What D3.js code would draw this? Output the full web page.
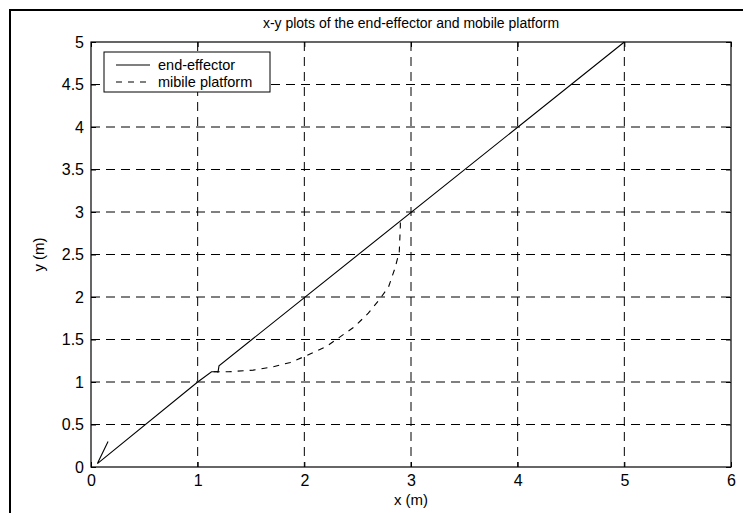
<!DOCTYPE html>
<html>
<head>
<meta charset="utf-8">
<script src="https://cdn.jsdelivr.net/npm/d3@7"></script>
<style>
html,body{margin:0;padding:0;background:#fff;}
svg{display:block;font-family:"Liberation Sans",Arial,sans-serif;}
</style>
</head>
<body>
<svg id="chart" width="743" height="513"></svg>
<script>
const titleText = "x-y plots of the end-effector and mobile platform";
const xLabel = "x (m)";
const yLabel = "y (m)";
const seriesNames = ["end-effector", "mibile platform"];
const xTicks = [0, 1, 2, 3, 4, 5, 6];
const yTicks = [0, 0.5, 1, 1.5, 2, 2.5, 3, 3.5, 4, 4.5, 5];

const endEffectorX = [0.16, 0.06, 0.08, 1.00, 1.13, 1.19, 1.19, 1.20, 5.00];
const endEffectorY = [0.30, 0.04, 0.06, 1.00, 1.12, 1.12, 1.11, 1.19, 5.00];

const platformX = [1.15, 1.29, 1.52, 1.71, 1.87, 2.02, 2.21, 2.30, 2.47, 2.60, 2.71, 2.79, 2.85, 2.89, 2.90, 2.90];
const platformY = [1.12, 1.12, 1.14, 1.18, 1.23, 1.31, 1.42, 1.50, 1.65, 1.81, 1.98, 2.12, 2.34, 2.53, 2.83, 2.88];

const svg = d3.select("#chart");
const L = 91, R = 731, T = 42, B = 467;
const x = d3.scaleLinear().domain([0, 6]).range([L, R]);
const y = d3.scaleLinear().domain([0, 5]).range([B, T]);

// outer figure frame (extends past right and bottom edges)
svg.append("rect").attr("x", 10).attr("y", 10).attr("width", 800).attr("height", 560)
  .attr("fill", "none").attr("stroke", "#000").attr("stroke-width", 2);

// grid
const grid = svg.append("g").attr("stroke", "#000").attr("stroke-width", 1).attr("stroke-dasharray", "9,6");
xTicks.filter(d => d > 0 && d < 6).forEach(d => {
  grid.append("line").attr("x1", x(d)).attr("x2", x(d)).attr("y1", T).attr("y2", B);
});
yTicks.filter(d => d > 0 && d < 5).forEach(d => {
  grid.append("line").attr("x1", L).attr("x2", R).attr("y1", y(d)).attr("y2", y(d));
});

// axes
const fs = "16px";
const xAxis = svg.append("g").attr("transform", `translate(0,${B})`)
  .call(d3.axisBottom(x).tickValues(xTicks).tickFormat(d3.format("d")).tickSizeInner(-5).tickSizeOuter(0).tickPadding(8));
const yAxis = svg.append("g").attr("transform", `translate(${L},0)`)
  .call(d3.axisLeft(y).tickValues(yTicks).tickFormat(d => String(d)).tickSizeInner(-5).tickSizeOuter(0).tickPadding(7));
const xTop = svg.append("g").attr("transform", `translate(0,${T})`)
  .call(d3.axisTop(x).tickValues(xTicks).tickFormat("").tickSizeInner(-5).tickSizeOuter(0));
const yRight = svg.append("g").attr("transform", `translate(${R},0)`)
  .call(d3.axisRight(y).tickValues(yTicks).tickFormat("").tickSizeInner(-5).tickSizeOuter(0));
[xAxis, yAxis, xTop, yRight].forEach(g => {
  g.select(".domain").remove();
  g.selectAll("line").attr("stroke", "#000");
  g.selectAll("text").attr("fill", "#000").style("font-size", fs).style("font-family", '"Liberation Sans",Arial,sans-serif');
});

svg.append("rect").attr("x", L).attr("y", T).attr("width", R - L).attr("height", B - T)
  .attr("fill", "none").attr("stroke", "#000").attr("stroke-width", 1.2);

// lines
const line = d3.line().x(d => x(d[0])).y(d => y(d[1]));
const ee = endEffectorX.map((v, i) => [v, endEffectorY[i]]);
const mp = platformX.map((v, i) => [v, platformY[i]]);
svg.append("path").datum(ee).attr("d", line).attr("fill", "none").attr("stroke", "#000").attr("stroke-width", 1.1);
svg.append("path").datum(mp).attr("d", line).attr("fill", "none").attr("stroke", "#000").attr("stroke-width", 1.1).attr("stroke-dasharray", "6,6");

// title & labels
svg.append("text").attr("x", (L + R) / 2).attr("y", 28).attr("text-anchor", "middle")
  .style("font-size", "14px").text(titleText);
svg.append("text").attr("x", (L + R) / 2).attr("y", 505).attr("text-anchor", "middle")
  .style("font-size", "15px").text(xLabel);
svg.append("text").attr("transform", `translate(44,${(T + B) / 2}) rotate(-90)`).attr("text-anchor", "middle")
  .style("font-size", "15px").text(yLabel);

// legend
const lg = svg.append("g").attr("transform", "translate(104,52)");
lg.append("rect").attr("width", 166).attr("height", 40).attr("fill", "#fff").attr("stroke", "#000").attr("stroke-width", 1);
seriesNames.forEach((name, i) => {
  const yy = 13 + i * 17;
  lg.append("line").attr("x1", 12).attr("x2", 46).attr("y1", yy).attr("y2", yy)
    .attr("stroke", "#000").attr("stroke-width", 1.1).attr("stroke-dasharray", i === 1 ? "6,6" : null);
  lg.append("text").attr("x", 54).attr("y", yy + 5).style("font-size", "14.5px").text(name);
});
</script>
</body>
</html>
